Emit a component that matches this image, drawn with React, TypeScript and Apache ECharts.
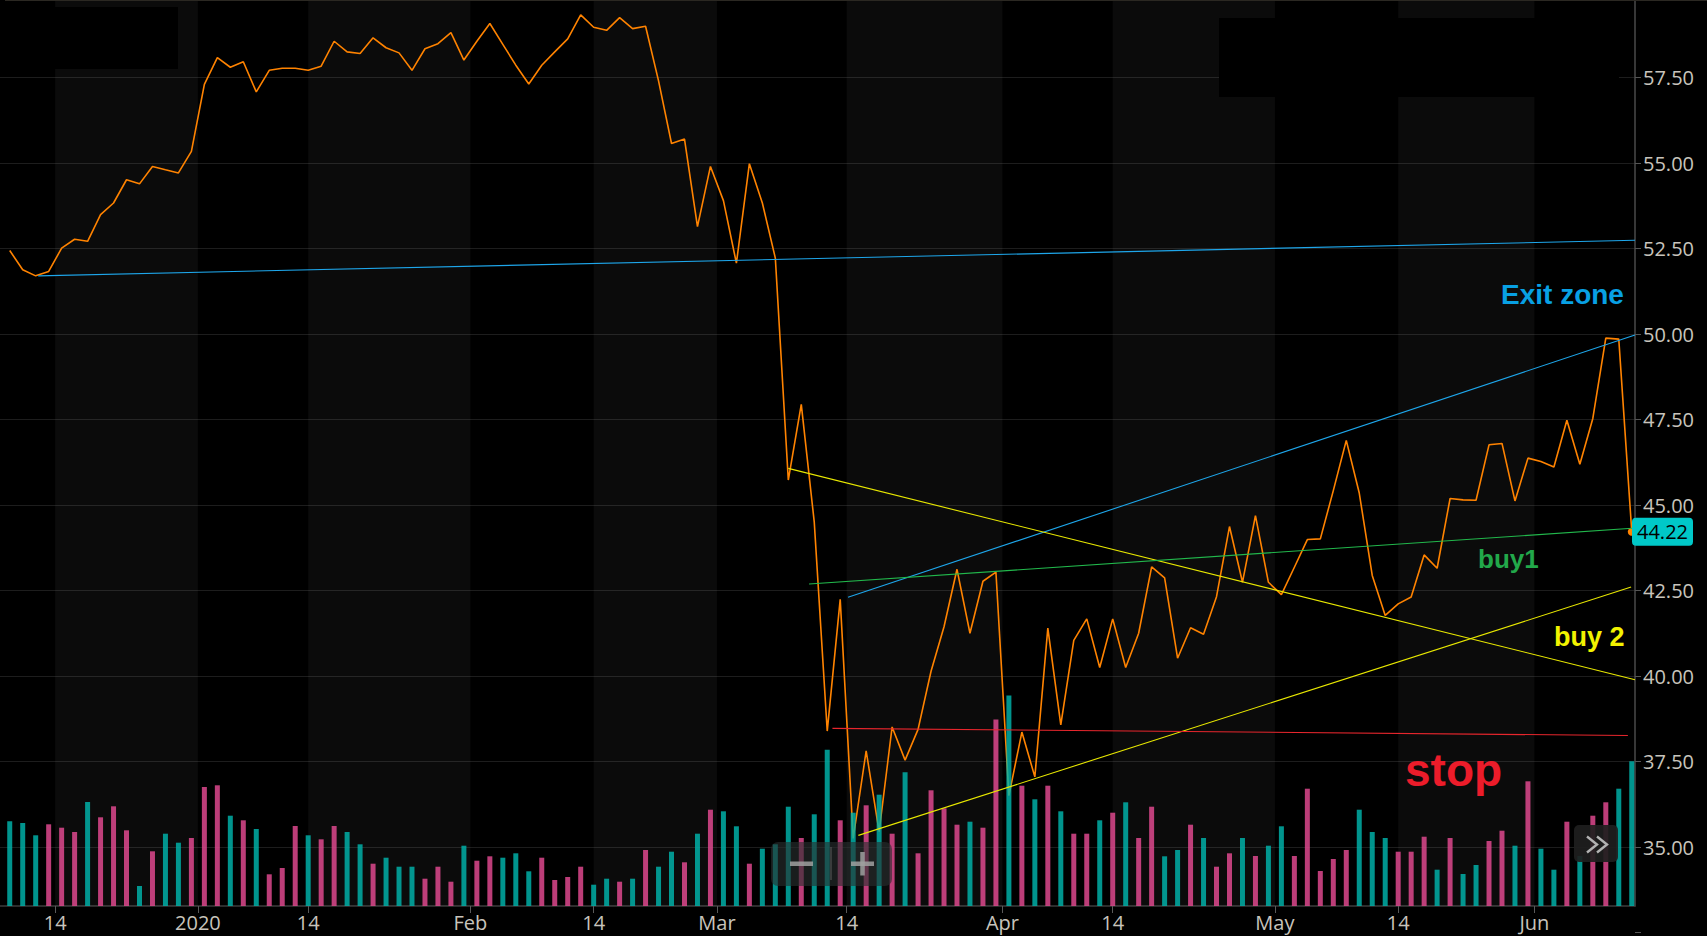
import React, { useEffect, useRef } from "react";
import * as echarts from "echarts";

// ---------- data ----------
const tradingDays: string[] = [
  "2019-12-10", "2019-12-11", "2019-12-12", "2019-12-13", "2019-12-16", "2019-12-17", "2019-12-18", "2019-12-19", "2019-12-20", "2019-12-23",
  "2019-12-24", "2019-12-26", "2019-12-27", "2019-12-30", "2019-12-31", "2020-01-02", "2020-01-03", "2020-01-06", "2020-01-07", "2020-01-08",
  "2020-01-09", "2020-01-10", "2020-01-13", "2020-01-14", "2020-01-15", "2020-01-16", "2020-01-17", "2020-01-21", "2020-01-22", "2020-01-23",
  "2020-01-24", "2020-01-27", "2020-01-28", "2020-01-29", "2020-01-30", "2020-01-31", "2020-02-03", "2020-02-04", "2020-02-05", "2020-02-06",
  "2020-02-07", "2020-02-10", "2020-02-11", "2020-02-12", "2020-02-13", "2020-02-14", "2020-02-18", "2020-02-19", "2020-02-20", "2020-02-21",
  "2020-02-24", "2020-02-25", "2020-02-26", "2020-02-27", "2020-02-28", "2020-03-02", "2020-03-03", "2020-03-04", "2020-03-05", "2020-03-06",
  "2020-03-09", "2020-03-10", "2020-03-11", "2020-03-12", "2020-03-13", "2020-03-16", "2020-03-17", "2020-03-18", "2020-03-19", "2020-03-20",
  "2020-03-23", "2020-03-24", "2020-03-25", "2020-03-26", "2020-03-27", "2020-03-30", "2020-03-31", "2020-04-01", "2020-04-02", "2020-04-03",
  "2020-04-06", "2020-04-07", "2020-04-08", "2020-04-09", "2020-04-13", "2020-04-14", "2020-04-15", "2020-04-16", "2020-04-17", "2020-04-20",
  "2020-04-21", "2020-04-22", "2020-04-23", "2020-04-24", "2020-04-27", "2020-04-28", "2020-04-29", "2020-04-30", "2020-05-01", "2020-05-04",
  "2020-05-05", "2020-05-06", "2020-05-07", "2020-05-08", "2020-05-11", "2020-05-12", "2020-05-13", "2020-05-14", "2020-05-15", "2020-05-18",
  "2020-05-19", "2020-05-20", "2020-05-21", "2020-05-22", "2020-05-26", "2020-05-27", "2020-05-28", "2020-05-29", "2020-06-01", "2020-06-02",
  "2020-06-03", "2020-06-04", "2020-06-05", "2020-06-08", "2020-06-09", "2020-06-10",
];

const closes: number[] = [
  52.44, 51.88, 51.70, 51.83, 52.51, 52.77, 52.71, 53.49, 53.83, 54.51,
  54.39, 54.90, 54.80, 54.71, 55.34, 57.30, 58.08, 57.80, 57.96, 57.08,
  57.71, 57.77, 57.77, 57.71, 57.83, 58.56, 58.25, 58.20, 58.66, 58.37,
  58.22, 57.71, 58.34, 58.49, 58.81, 58.01, 58.56, 59.08, 58.47, 57.86,
  57.31, 57.86, 58.25, 58.63, 59.33, 58.97, 58.88, 59.25, 58.93, 59.00,
  57.40, 55.57, 55.70, 53.14, 54.90, 53.90, 52.07, 54.98, 53.83, 52.22,
  45.73, 47.94, 44.50, 38.39, 42.24, 35.25, 37.81, 35.45, 38.51, 37.54,
  38.44, 40.14, 41.44, 43.12, 41.25, 42.77, 43.04, 36.50, 38.36, 37.05,
  41.40, 38.57, 41.04, 41.67, 40.25, 41.67, 40.25, 41.25, 43.19, 42.87,
  40.52, 41.41, 41.22, 42.32, 44.37, 42.74, 44.69, 42.74, 42.38, 43.18,
  43.99, 44.01, 45.42, 46.89, 45.35, 42.94, 41.77, 42.11, 42.31, 43.54,
  43.15, 45.19, 45.15, 45.14, 46.76, 46.80, 45.12, 46.37, 46.27, 46.11,
  47.48, 46.19, 47.53, 49.88, 49.85, 44.22,
];

const volumes: number[] = [
  8.47, 8.30, 7.07, 8.17, 7.83, 7.40, 10.40, 8.87, 9.97, 7.57,
  2.00, 5.47, 7.23, 6.33, 6.80, 11.90, 12.07, 9.03, 8.57, 7.70,
  3.17, 3.80, 8.00, 7.07, 6.67, 8.00, 7.40, 6.17, 4.23, 4.83,
  3.93, 3.93, 2.73, 3.93, 2.43, 6.03, 4.53, 4.97, 4.83, 5.27,
  3.47, 4.83, 2.60, 2.90, 3.93, 2.13, 2.73, 2.43, 2.73, 5.60,
  3.93, 5.43, 4.37, 7.23, 9.63, 9.47, 7.97, 4.23, 5.73, 6.17,
  9.93, 6.80, 9.17, 15.63, 8.57, 9.33, 10.07, 11.13, 7.23, 13.37,
  5.27, 11.57, 9.77, 8.13, 8.43, 7.83, 18.64, 21.04, 12.03, 10.67,
  12.03, 9.47, 7.23, 7.23, 8.57, 9.33, 10.37, 6.80, 9.93, 4.97,
  5.60, 8.13, 6.80, 3.93, 5.27, 6.80, 5.00, 6.03, 7.97, 5.00,
  11.73, 3.50, 4.70, 5.60, 9.63, 7.40, 6.80, 5.43, 5.43, 6.93,
  3.63, 6.80, 3.20, 4.10, 6.50, 7.53, 6.03, 12.47, 5.73, 3.63,
  8.43, 5.00, 9.03, 10.37, 11.73, 14.47,
];

// u = up-volume bar (teal), d = down-volume bar (pink)
const volumeSide: string[] = [
  "uuuddduddd", "uduudddudu", "dddudduudu", "uudddudduu", "udddduudud",
  "uududuuduu", "uduudududu", "dddduddudu", "duddududdu", "ududduduud",
  "dddduuuddd", "uduudduduu", "dudduu",
].join("").split("");

const timeTicks = [
  { date: "2019-12-14", text: "14" },
  { date: "2020-01-01", text: "2020" },
  { date: "2020-01-14", text: "14" },
  { date: "2020-02-01", text: "Feb" },
  { date: "2020-02-14", text: "14" },
  { date: "2020-03-01", text: "Mar" },
  { date: "2020-03-14", text: "14" },
  { date: "2020-04-01", text: "Apr" },
  { date: "2020-04-14", text: "14" },
  { date: "2020-05-01", text: "May" },
  { date: "2020-05-14", text: "14" },
  { date: "2020-06-01", text: "Jun" },
];

const priceMin = 32.5;
const priceMax = 60;
const priceStep = 2.5;

// drawn trend lines: [bar index, price]
const trendLines = [
  { name: "exitTop", color: "#1ea6ea", from: [2.2, 51.7], to: [125.25, 52.74] },
  { name: "exitBottom", color: "#1ea6ea", from: [64.6, 42.3], to: [125.25, 49.97] },
  { name: "buy2Down", color: "#e8e800", from: [60.0, 46.07], to: [125.25, 39.89] },
  { name: "buy2Up", color: "#e8e800", from: [65.4, 35.34], to: [124.95, 42.6] },
  { name: "buy1", color: "#22b84c", from: [61.6, 42.69], to: [125.04, 44.32] },
  { name: "stop", color: "#e8262d", from: [63.4, 38.47], to: [124.7, 38.26] },
];

const X_MIN = -0.75;
const X_MAX = 125.25;

const TEAL = "#00b5ac";
const PINK = "#e54a92";
const ORANGE = "#ff8300";
const LABEL = "#c8c4bc";

function tickPosition(date: string): number {
  const idx = tradingDays.findIndex((d) => d >= date);
  const onBar = tradingDays[idx] === date && date.endsWith("-14");
  return onBar ? idx : idx - 0.5;
}

export default function App() {
  const ref = useRef<HTMLDivElement>(null);

  useEffect(() => {
    document.body.style.margin = "0";
    document.body.style.background = "#000";
    const chart = echarts.init(ref.current!, null, { renderer: "svg" });

    const ticks = timeTicks.map((t) => ({ pos: tickPosition(t.date), text: t.text }));
    const slotCount = Math.round((X_MAX - X_MIN) * 4) + 1;
    const slotData = Array.from({ length: slotCount }, (_, k) => String(k));
    const slotLabels: Record<number, string> = {};
    ticks.forEach((t) => {
      slotLabels[Math.round((t.pos - X_MIN) * 4)] = t.text;
    });
    const hasLabel = (index: number) => slotLabels[index] !== undefined;

    const bands: [number, number][] = [];
    ticks.forEach((t, j) => {
      if (t.text === "14" && j + 1 < ticks.length) bands.push([t.pos, ticks[j + 1].pos]);
    });

    const option: any = {
      animation: false,
      backgroundColor: "#000",
      grid: [
        { left: 0, right: 72, top: -8, bottom: 3.5, outerBoundsMode: "none" },
        { left: 0, right: 72, top: 0, bottom: 30, outerBoundsMode: "none" },
      ],
      xAxis: [
        { type: "value", gridIndex: 0, min: X_MIN, max: X_MAX, show: false, axisLine: { onZero: false } },
        {
          type: "category",
          gridIndex: 1,
          position: "bottom",
          boundaryGap: false,
          data: slotData,
          axisLine: { show: true, onZero: false, lineStyle: { color: "#3c3c3c", width: 1.5 } },
          axisTick: { show: true, length: 7, interval: (i: number) => hasLabel(i), lineStyle: { color: "#5a5a5a" } },
          axisLabel: {
            interval: (i: number) => hasLabel(i),
            formatter: (v: string) => slotLabels[Number(v)] ?? "",
            color: LABEL,
            fontSize: 20,
            lineHeight: 22,
            fontFamily: "Open Sans",
            margin: 5,
          },
          splitLine: { show: false },
        },
        { type: "value", gridIndex: 1, min: X_MIN, max: X_MAX, show: false, axisLine: { onZero: false } },
      ],
      yAxis: [
        {
          type: "value",
          gridIndex: 0,
          position: "right",
          min: priceMin,
          max: priceMax,
          interval: priceStep,
          axisLine: { show: false, onZero: false },
          axisTick: { show: true, length: 6, lineStyle: { color: "#555" } },
          axisLabel: {
            color: LABEL,
            fontSize: 20,
            fontFamily: "Open Sans",
            margin: 8,
            formatter: (v: number) => (v <= priceMin || v >= priceMax ? "" : v.toFixed(2)),
          },
          splitLine: { show: true, showMinLine: false, showMaxLine: false, lineStyle: { color: "#1d1d1d", width: 1.2 } },
        },
        {
          type: "value",
          gridIndex: 1,
          position: "right",
          min: 0,
          max: 90.6,
          axisLine: { show: true, onZero: false, lineStyle: { color: "#4a4a4a", width: 1.5 } },
          axisTick: { show: false },
          axisLabel: { show: false },
          splitLine: { show: false },
        },
      ],
      series: [
        {
          type: "line",
          name: "bands",
          xAxisIndex: 2,
          yAxisIndex: 1,
          data: [[X_MIN, 0]],
          symbol: "none",
          z: 1,
          silent: true,
          markArea: {
            silent: true,
            itemStyle: { color: "rgba(255,255,255,0.043)" },
            data: bands.map((b) => [{ xAxis: b[0] }, { xAxis: b[1] }]),
          },
        },
        {
          type: "line",
          name: "price",
          xAxisIndex: 0,
          yAxisIndex: 0,
          data: closes.map((c, i) => [i, c]),
          symbol: "none",
          lineStyle: { color: ORANGE, width: 1.6 },
          z: 3,
          markPoint: {
            symbol: "circle",
            symbolSize: 8,
            itemStyle: { color: ORANGE },
            label: { show: false },
            data: [{ coord: [closes.length - 1, closes[closes.length - 1]] }],
          },
        },
        {
          type: "bar",
          name: "volume",
          xAxisIndex: 2,
          yAxisIndex: 1,
          barWidth: 5,
          z: 4,
          data: volumes.map((v, i) => ({
            value: [i, v],
            itemStyle: { color: volumeSide[i] === "u" ? TEAL : PINK, opacity: 0.82 },
          })),
        },
        ...trendLines.map((t) => ({
          type: "line",
          name: t.name,
          xAxisIndex: 0,
          yAxisIndex: 0,
          data: [t.from, t.to],
          symbol: "none",
          lineStyle: { color: t.color, width: 1.1 },
          z: 5,
        })),
      ],
    };

    chart.setOption(option);

    const last = closes.length - 1;
    const pt = chart.convertToPixel({ seriesIndex: 1 }, [last, closes[last]]) as number[];
    const py = pt ? pt[1] : 532;
    const W = chart.getWidth();
    const axisX = W - 72;

    const bold = '"Liberation Sans", Arial, sans-serif';
    chart.setOption({
      graphic: [
        { type: "line", z: 100, shape: { x1: 5, y1: 0.5, x2: W, y2: 0.5 }, style: { stroke: "#2b2822", lineWidth: 1 } },
        { type: "rect", z: 100, shape: { x: 0, y: 7, width: 178, height: 62 }, style: { fill: "#000" } },
        { type: "rect", z: 100, shape: { x: 1219, y: 18, width: axisX - 16 - 1219, height: 79 }, style: { fill: "#000" } },
        {
          type: "text", z: 100,
          style: { x: 1501, y: 294, text: "Exit zone", fill: "#08a0e4", font: `bold 28px ${bold}`, align: "left", verticalAlign: "middle", textAlign: "left", textVerticalAlign: "middle" },
        },
        {
          type: "text", z: 100,
          style: { x: 1478, y: 559, text: "buy1", fill: "#22a84a", font: `bold 26px ${bold}`, align: "left", verticalAlign: "middle", textAlign: "left", textVerticalAlign: "middle" },
        },
        {
          type: "text", z: 100,
          style: { x: 1554, y: 637, text: "buy 2", fill: "#f2f200", font: `bold 27px ${bold}`, align: "left", verticalAlign: "middle", textAlign: "left", textVerticalAlign: "middle" },
        },
        {
          type: "text", z: 100,
          style: { x: 1405, y: 770, text: "stop", fill: "#ec1c2a", font: `bold 46px ${bold}`, align: "left", verticalAlign: "middle", textAlign: "left", textVerticalAlign: "middle" },
        },
        // zoom buttons
        { type: "rect", z: 100, shape: { x: 771, y: 842, width: 121, height: 44, r: 7 }, style: { fill: "rgba(40,46,46,0.62)" } },
        { type: "rect", z: 101, shape: { x: 790, y: 861.5, width: 23, height: 4.5 }, style: { fill: "rgba(160,160,160,0.85)" } },
        { type: "line", z: 101, shape: { x1: 831, y1: 847, x2: 831, y2: 880 }, style: { stroke: "rgba(90,90,90,0.7)", lineWidth: 1.5 } },
        { type: "rect", z: 101, shape: { x: 851, y: 861.5, width: 23, height: 4.5 }, style: { fill: "rgba(160,160,160,0.85)" } },
        { type: "rect", z: 101, shape: { x: 860.25, y: 852, width: 4.5, height: 23.5 }, style: { fill: "rgba(160,160,160,0.85)" } },
        // scroll-to-end button
        { type: "rect", z: 100, shape: { x: 1574, y: 825, width: 44, height: 37, r: 5 }, style: { fill: "rgba(30,30,30,0.92)" } },
        { type: "polyline", z: 101, shape: { points: [[1587, 836.5], [1597, 844.5], [1587, 852.5]] }, style: { stroke: "#b2b2b2", lineWidth: 2.4, fill: "none" } },
        { type: "polyline", z: 101, shape: { points: [[1597, 836.5], [1607, 844.5], [1597, 852.5]] }, style: { stroke: "#b2b2b2", lineWidth: 2.4, fill: "none" } },
        // last price tag
        { type: "rect", z: 102, shape: { x: axisX - 3, y: py - 14, width: 61, height: 28, r: 4 }, style: { fill: "#00c8c8" } },
        {
          type: "text", z: 103,
          style: { x: axisX - 3 + 30.5, y: py, text: closes[last].toFixed(2), fill: "#000", font: '20px "Open Sans", sans-serif', align: "center", verticalAlign: "middle", textAlign: "center", textVerticalAlign: "middle" },
        },
      ],
    });

    return () => chart.dispose();
  }, []);

  return <div ref={ref} style={{ width: "1707px", height: "936px" }} />;
}
